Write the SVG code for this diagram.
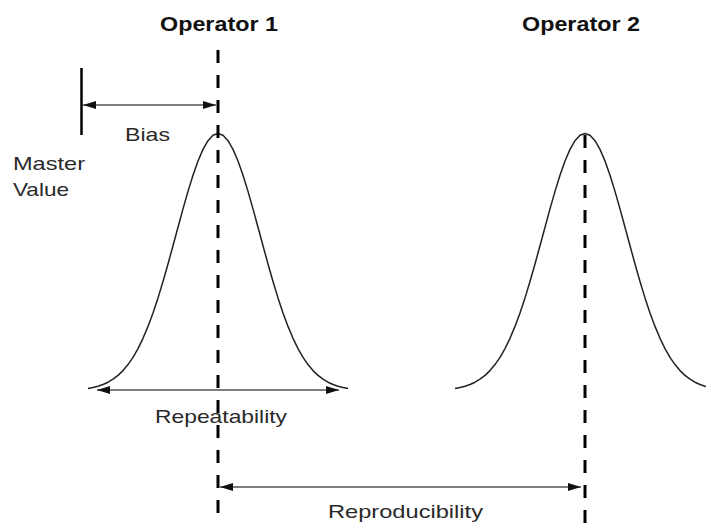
<svg xmlns="http://www.w3.org/2000/svg" xmlns:xlink="http://www.w3.org/1999/xlink" width="706" height="524" viewBox="0 0 706 524">
<style>
.t{font-family:"Liberation Sans",Arial,sans-serif;font-size:18.5px;fill:#2a2a2a}
.h{font-family:"Liberation Sans",Arial,sans-serif;font-size:19.5px;font-weight:bold;fill:#111}
.bell{fill:none;stroke:#222;stroke-width:1.5;stroke-linejoin:round}
.dash{stroke:#000;stroke-width:3;stroke-dasharray:13 12;fill:none}
.arr{stroke:#555;stroke-width:1.6;fill:none;marker-start:url(#ah);marker-end:url(#ah)}
</style>
<defs>
<marker id="ah" markerUnits="userSpaceOnUse" markerWidth="14" markerHeight="10" refX="13" refY="4" orient="auto-start-reverse">
<path d="M0,0 L13,4 L0,8 z" fill="#111"/>
</marker>
<polyline id="bellpath" points="-130,386.9 -125,385.9 -120,384.7 -115,383 -110,380.7 -105,377.7 -100,373.9 -95,369.1 -90,363.1 -85,355.9 -80,347.1 -75,336.8 -70,324.9 -65,311.4 -60,296.4 -55,280 -50,262.5 -45,244.2 -40,225.7 -35,207.4 -30,189.9 -25,173.7 -20,159.5 -15,147.9 -10,139.2 -5,133.8 0,132 5,133.8 10,139.2 15,147.9 20,159.5 25,173.7 30,189.9 35,207.4 40,225.7 45,244.2 50,262.5 55,280 60,296.4 65,311.4 70,324.9 75,336.8 80,347.1 85,355.9 90,363.1 95,369.1 100,373.9 105,377.7 110,380.7 115,383 120,384.7 125,385.9 130,386.9"/>
</defs>
<rect width="706" height="524" fill="#fff"/>

<g id="operator1">
<use xlink:href="#bellpath" href="#bellpath" class="bell" transform="translate(218,1.5)"/>
<line class="dash" x1="218" y1="50" x2="218" y2="524"/>
<text class="h" x="160" y="31" textLength="118" lengthAdjust="spacingAndGlyphs">Operator 1</text>
</g>

<g id="operator2">
<use xlink:href="#bellpath" href="#bellpath" class="bell" transform="translate(585,1.5)"/>
<line class="dash" x1="585" y1="133" x2="585" y2="524" stroke-dashoffset="-2"/>
<text class="h" x="522" y="31" textLength="118" lengthAdjust="spacingAndGlyphs">Operator 2</text>
</g>

<g id="master-value">
<line x1="81.5" y1="68" x2="81.5" y2="135" stroke="#000" stroke-width="2.5"/>
<text class="t" x="13" y="170" textLength="72" lengthAdjust="spacingAndGlyphs">Master</text>
<text class="t" x="13" y="196" textLength="56" lengthAdjust="spacingAndGlyphs">Value</text>
</g>

<g id="connectors">
<line class="arr" x1="83" y1="105" x2="216" y2="105"/>
<line class="arr" x1="97" y1="390" x2="339" y2="390"/>
<line class="arr" x1="220" y1="487" x2="581" y2="487"/>
</g>

<g id="labels">
<text class="t" x="125" y="141" textLength="45" lengthAdjust="spacingAndGlyphs">Bias</text>
<text class="t" x="155" y="423" textLength="132" lengthAdjust="spacingAndGlyphs">Repeatability</text>
<text class="t" x="328" y="518" textLength="155" lengthAdjust="spacingAndGlyphs">Reproducibility</text>
</g>
</svg>
